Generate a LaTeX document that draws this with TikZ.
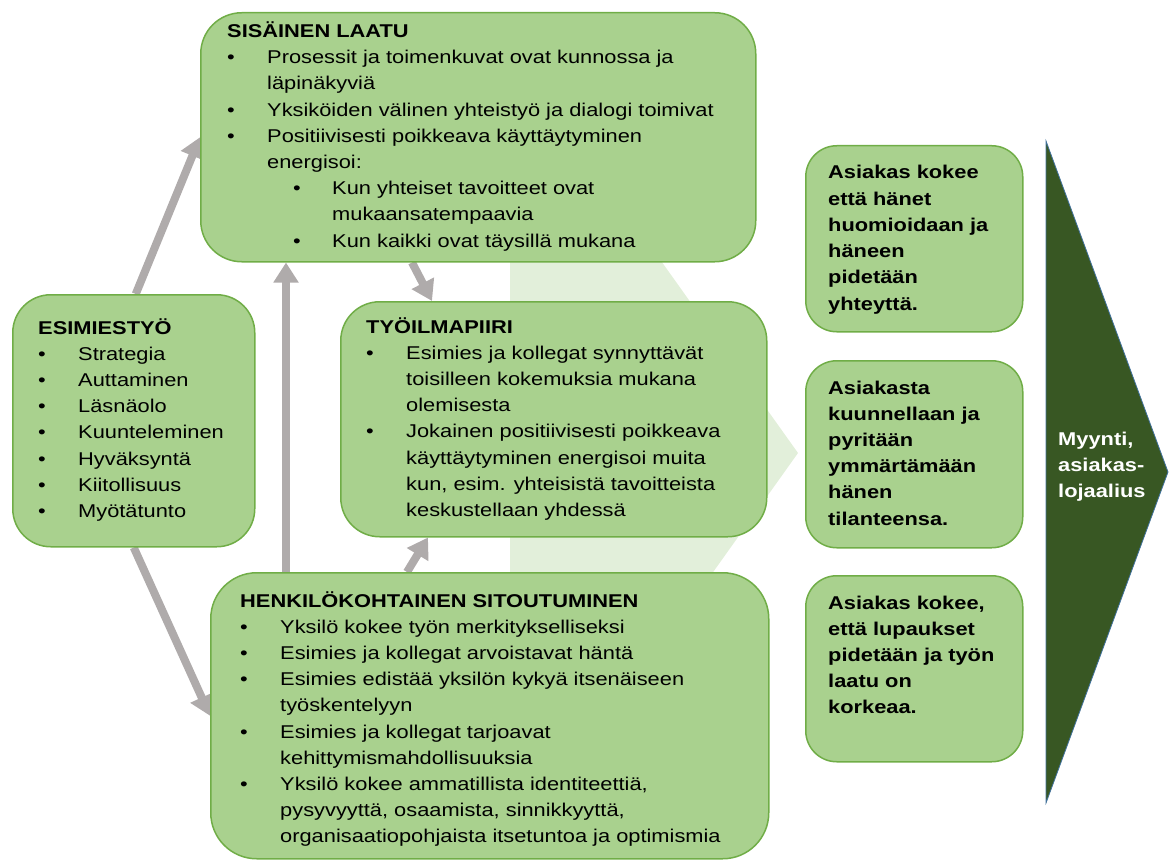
\documentclass[tikz,border=0pt]{standalone}
\usepackage{fontspec}
\setmainfont{Liberation Sans}[FakeStretch=1.18]
\usetikzlibrary{arrows.meta,calc,backgrounds}

\definecolor{boxfill}{HTML}{A9D18E}
\definecolor{boxline}{HTML}{70AD47}
\definecolor{palegreen}{HTML}{E2EFDA}
\definecolor{darkgreen}{HTML}{385723}
\definecolor{darkedge}{HTML}{41719C}
\definecolor{arrowgrey}{HTML}{AFABAB}

% bullet helpers: first-level and second-level items, with hanging indents
\newcommand{\bu}{\makebox[40pt][l]{\textbullet}}
\newcommand{\ind}{\hspace*{40pt}}
\newcommand{\sbu}{\hspace*{66pt}\makebox[39pt][l]{\textbullet}}
\newcommand{\sind}{\hspace*{105pt}}
\newcommand{\txtblock}[1]{\parbox[t]{600pt}{\raggedright #1}}

\begin{document}
\begin{tikzpicture}[x=1pt,y=-1pt,
  box/.style={draw=boxline, line width=1.5pt, fill=boxfill, anchor=north west,
              inner sep=0pt, rounded corners=#1},
  txt/.style={inner sep=0pt, anchor=base west,
              font=\fontsize{18.5}{26.2}\selectfont},
  btxt/.style={inner sep=0pt, anchor=base west,
              font=\fontsize{18.5}{26.2}\selectfont\bfseries},
  conn/.style={draw=arrowgrey, line width=8pt,
               -{Triangle[width=24pt,length=20pt]}}]

\useasboundingbox (0,0) rectangle (1175,861);

% boxes
\path
  (200,12)  node[box=41, minimum width=555pt, minimum height=249pt] (sis) {}
  (340,301) node[box=39, minimum width=426pt, minimum height=235pt] (tyo) {}
  (12,294)  node[box=38, minimum width=242pt, minimum height=252pt] (esi) {}
  (210,572) node[box=46, minimum width=558pt, minimum height=286pt] (hen) {}
  (805,145) node[box=31, minimum width=217pt, minimum height=186pt] (r1) {}
  (805,360) node[box=31, minimum width=217pt, minimum height=187pt] (r2) {}
  (805,575) node[box=31, minimum width=217pt, minimum height=186pt] (r3) {};

% pale chevron and connectors lie behind the boxes
\begin{scope}[on background layer]
  \fill[palegreen] (510,230) -- (639,230) -- (798,453) -- (639,676) -- (510,676) -- cycle;
  \draw[conn] ($(esi.north)+(2,0)$) -- (sis.west);
  \draw[conn] (esi.south) -- (hen.west);
  \draw[conn] ($(hen.north west)+(76,0)$) -- ($(sis.south west)+(86,0)$);
  \draw[conn] ($(sis.south west)+(212,0)$) -- ($(tyo.north west)+(92,0)$);
  \draw[conn] ($(hen.north west)+(197,0)$) -- ($(tyo.south west)+(88,0)$);
\end{scope}

% dark outcome arrow
\filldraw[fill=darkgreen, draw=darkedge, line width=0.8pt]
  (1046,141) -- (1168,472) -- (1046,803) -- cycle;
\node[btxt, text=white] (myynti) at (1058,445)
  {\txtblock{Myynti,\\asiakas-\\lojaalius}};

% box texts
\node[txt] (tsis) at (227,37.5) {\txtblock{%
\textbf{SISÄINEN LAATU}\\
\bu Prosessit ja toimenkuvat ovat kunnossa ja\\
\ind läpinäkyviä\\
\bu Yksiköiden välinen yhteistyö ja dialogi toimivat\\
\bu Positiivisesti poikkeava käyttäytyminen\\
\ind energisoi:\\
\sbu Kun yhteiset tavoitteet ovat\\
\sind mukaansatempaavia\\
\sbu Kun kaikki ovat täysillä mukana}};

\node[txt] (ttyo) at (366,333) {\txtblock{%
\textbf{TYÖILMAPIIRI}\\
\bu Esimies ja kollegat synnyttävät\\
\ind toisilleen kokemuksia mukana\\
\ind olemisesta\\
\bu Jokainen positiivisesti poikkeava\\
\ind käyttäytyminen energisoi muita\\
\ind kun, esim. yhteisistä tavoitteista\\
\ind keskustellaan yhdessä}};

\node[txt] (tesi) at (38,334) {\txtblock{%
\textbf{ESIMIESTYÖ}\\
\bu Strategia\\
\bu Auttaminen\\
\bu Läsnäolo\\
\bu Kuunteleminen\\
\bu Hyväksyntä\\
\bu Kiitollisuus\\
\bu Myötätunto}};

\node[txt] (then) at (240,607) {\txtblock{%
\textbf{HENKILÖKOHTAINEN SITOUTUMINEN}\\
\bu Yksilö kokee työn merkitykselliseksi\\
\bu Esimies ja kollegat arvoistavat häntä\\
\bu Esimies edistää yksilön kykyä itsenäiseen\\
\ind työskentelyyn\\
\bu Esimies ja kollegat tarjoavat\\
\ind kehittymismahdollisuuksia\\
\bu Yksilö kokee ammatillista identiteettiä,\\
\ind pysyvyyttä, osaamista, sinnikkyyttä,\\
\ind organisaatiopohjaista itsetuntoa ja optimismia}};

\node[btxt] (tr1) at (828,179) {\txtblock{%
Asiakas kokee\\että hänet\\huomioidaan ja\\häneen\\pidetään\\yhteyttä.}};
\node[btxt] (tr2) at (828,394) {\txtblock{%
Asiakasta\\kuunnellaan ja\\pyritään\\ymmärtämään\\hänen\\tilanteensa.}};
\node[btxt] (tr3) at (828,609) {\txtblock{%
Asiakas kokee,\\että lupaukset\\pidetään ja työn\\laatu on\\korkeaa.}};

\end{tikzpicture}
\end{document}
